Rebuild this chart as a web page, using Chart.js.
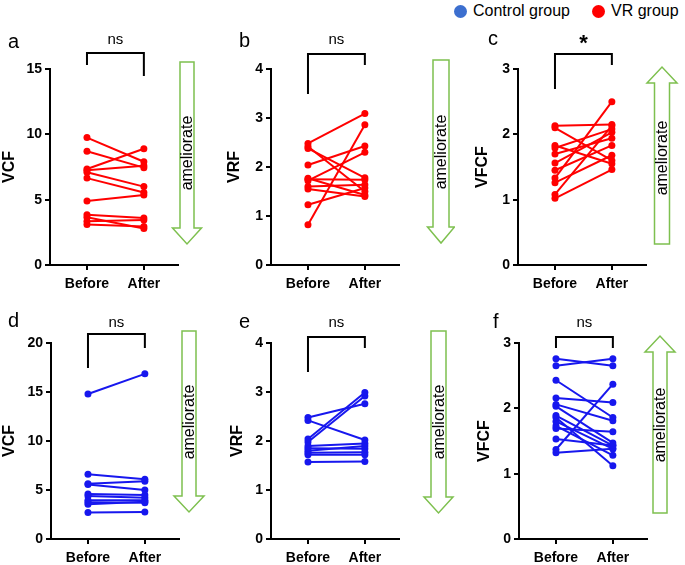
<!DOCTYPE html>
<html>
<head>
<meta charset="utf-8">
<script src="https://cdn.jsdelivr.net/npm/chart.js@4"></script>
<style>
  body { margin: 0; background: #fff; }
  #wrap { position: relative; width: 685px; height: 565px; font-family: "Liberation Sans", Arial, sans-serif; }
  canvas { position: absolute; }
  .dot { position: absolute; width: 13px; height: 13px; border-radius: 50%; }
  .lab { position: absolute; font-size: 16px; color: #000; top: 2px; }
</style>
</head>
<body>
<div id="wrap">
  <div class="dot" style="left:454px;top:5px;background:#3c6fcf"></div>
  <div class="lab" style="left:473px">Control group</div>
  <div class="dot" style="left:592px;top:5px;background:#ff0000"></div>
  <div class="lab" style="left:611px">VR group</div>
  <canvas id="pa" width="225" height="267" style="left:0;top:28px"></canvas>
  <canvas id="pb" width="230" height="267" style="left:225px;top:28px"></canvas>
  <canvas id="pc" width="230" height="267" style="left:455px;top:28px"></canvas>
  <canvas id="pd" width="225" height="260" style="left:0;top:305px"></canvas>
  <canvas id="pe" width="230" height="260" style="left:225px;top:305px"></canvas>
  <canvas id="pf" width="230" height="260" style="left:455px;top:305px"></canvas>
</div>
<script>
const timepoints = ['Before', 'After'];

// VR group
const vcfVrBefore = [9.75, 8.7, 7.35, 7.25, 7.1, 6.65, 4.9, 3.85, 3.65, 3.35, 3.1];
const vcfVrAfter  = [7.9, 7.45, 8.9, 7.6, 6.0, 5.55, 5.35, 3.6, 2.8, 3.45, 2.95];
const vrfVrBefore = [2.48, 2.42, 2.38, 2.04, 1.77, 1.72, 1.60, 1.55, 1.23, 0.82, 1.75];
const vrfVrAfter  = [3.09, 1.50, 1.78, 2.43, 1.43, 2.30, 1.64, 1.40, 1.57, 2.86, 1.74];
const vfcfVrBefore = [2.13, 2.10, 1.83, 1.79, 1.70, 1.56, 1.45, 1.33, 1.26, 1.08, 1.02];
const vfcfVrAfter  = [2.15, 1.60, 1.55, 2.08, 1.94, 2.03, 1.83, 2.50, 1.68, 2.13, 1.46];

// Control group
const vcfCtlBefore = [14.8, 6.6, 5.65, 5.55, 4.6, 4.4, 3.95, 3.75, 3.55, 2.7];
const vcfCtlAfter  = [16.85, 6.1, 5.9, 5.0, 4.5, 4.2, 3.95, 3.7, 3.8, 2.75];
const vrfCtlBefore = [2.48, 2.42, 2.04, 1.98, 1.90, 1.85, 1.80, 1.76, 1.72, 1.57];
const vrfCtlAfter  = [2.76, 2.02, 2.99, 2.92, 1.95, 1.84, 1.90, 1.77, 1.72, 1.58];
const vfcfCtlBefore = [2.76, 2.65, 2.43, 2.16, 2.06, 2.03, 1.89, 1.86, 1.80, 1.73, 1.69, 1.53, 1.37, 1.32];
const vfcfCtlAfter  = [2.65, 2.76, 1.86, 2.09, 1.81, 1.47, 1.43, 1.12, 1.38, 1.28, 1.64, 1.43, 2.37, 1.38];

const FONT = '"Liberation Sans", Arial, sans-serif';
const RED = '#ff0000';
const BLUE = '#1717ee';
const GREEN = '#7ec04f';

// brackets, arrows, letters
const decor = {
    id: 'decor',
    afterDraw(chart, args, o) {
        const ctx = chart.ctx;
        const top = chart.chartArea.top;
        const x0 = chart.scales.x.getPixelForValue(0);
        const x1 = chart.scales.x.getPixelForValue(1);
        ctx.save();
        ctx.fillStyle = '#000';
        ctx.textBaseline = 'middle';
        ctx.textAlign = 'left';
        ctx.font = '20px ' + FONT;
        ctx.fillText(o.letter, o.letterPos[0], o.letterPos[1]);

        ctx.strokeStyle = '#000';
        ctx.lineWidth = 2;
        ctx.beginPath();
        ctx.moveTo(x0, top + o.bracket[1]);
        ctx.lineTo(x0, top + o.bracket[0]);
        ctx.lineTo(x1, top + o.bracket[0]);
        ctx.lineTo(x1, top + o.bracket[2]);
        ctx.stroke();

        ctx.textAlign = 'center';
        ctx.font = o.sig === '*' ? 'bold 22px ' + FONT : '15px ' + FONT;
        ctx.fillText(o.sig, (x0 + x1) / 2, top + o.sigY);

        // hollow arrow
        const a = o.arrow;
        const dir = Math.sign(a.tip - a.tail);
        const base = a.tip - dir * a.head;
        ctx.strokeStyle = GREEN;
        ctx.lineWidth = 1.5;
        ctx.beginPath();
        ctx.moveTo(a.cx - a.shaft, a.tail);
        ctx.lineTo(a.cx + a.shaft, a.tail);
        ctx.lineTo(a.cx + a.shaft, base);
        ctx.lineTo(a.cx + a.wing, base);
        ctx.lineTo(a.cx, a.tip);
        ctx.lineTo(a.cx - a.wing, base);
        ctx.lineTo(a.cx - a.shaft, base);
        ctx.closePath();
        ctx.stroke();

        ctx.translate(a.cx + 1, a.textY);
        ctx.rotate(-Math.PI / 2);
        ctx.fillStyle = '#000';
        ctx.font = '16px ' + FONT;
        ctx.fillText('ameliorate', 0, 0);
        ctx.restore();
    }
};

function makePanel(id, p) {
    const datasets = p.before.map((b, i) => ({
        data: [{ x: 0, y: b }, { x: 1, y: p.after[i] }],
        borderColor: p.color,
        backgroundColor: p.color,
        borderWidth: 2,
        pointRadius: 3.5,
        pointBorderWidth: 0,
        clip: false
    }));
    const tickFont = { family: FONT, size: 14, weight: 'bold' };
    return new Chart(document.getElementById(id), {
        type: 'line',
        data: { datasets },
        options: {
            responsive: false,
            animation: false,
            events: [],
            layout: { padding: { left: p.padLeft, top: p.padTop, right: p.padRight, bottom: 0 } },
            plugins: {
                legend: { display: false },
                tooltip: { enabled: false },
                decor: p.decor
            },
            scales: {
                x: {
                    type: 'linear',
                    min: -0.65,
                    max: 1.6,
                    afterBuildTicks: (s) => { s.ticks = [{ value: 0 }, { value: 1 }]; },
                    afterFit: (s) => { s.height = p.xHeight; },
                    ticks: {
                        callback: (v) => timepoints[v],
                        color: '#000',
                        font: tickFont,
                        padding: 6,
                        maxRotation: 0
                    },
                    grid: { drawOnChartArea: false, color: '#000', lineWidth: 2, tickLength: 5 },
                    border: { color: '#000', width: 2 }
                },
                y: {
                    min: 0,
                    max: p.max,
                    afterFit: (s) => { s.width = p.yWidth; },
                    ticks: { stepSize: p.step, color: '#000', font: tickFont, padding: 3 },
                    grid: { drawOnChartArea: false, color: '#000', lineWidth: 2, tickLength: 5 },
                    border: { color: '#000', width: 2 },
                    title: {
                        display: true,
                        text: p.title,
                        color: '#000',
                        padding: 0,
                        font: { family: FONT, size: 16, weight: 'bold' }
                    }
                }
            }
        },
        plugins: [decor]
    });
}

const arrow = (cx, shaft, wing, tail, tip, textY) => ({ cx, shaft, wing, tail, tip, head: 16, textY });

makePanel('pa', {
    before: vcfVrBefore, after: vcfVrAfter, color: RED, title: 'VCF', max: 15, step: 5,
    padLeft: 0, yWidth: 50, padRight: 47, padTop: 41, xHeight: 30,
    decor: { letter: 'a', letterPos: [8, 14], sig: 'ns', sigY: -29, bracket: [-16, -4, 7],
             arrow: arrow(187, 7, 14.5, 34, 216, 125) }
});
makePanel('pb', {
    before: vrfVrBefore, after: vrfVrAfter, color: RED, title: 'VRF', max: 4, step: 1,
    padLeft: 0, yWidth: 46, padRight: 56, padTop: 41, xHeight: 30,
    decor: { letter: 'b', letterPos: [14, 13], sig: 'ns', sigY: -29, bracket: [-15, 25, -4],
             arrow: arrow(216, 8, 13.5, 32, 215, 124) }
});
makePanel('pc', {
    before: vfcfVrBefore, after: vfcfVrAfter, color: RED, title: 'VFCF', max: 3, step: 1,
    padLeft: 18, yWidth: 45, padRight: 39, padTop: 41, xHeight: 30,
    decor: { letter: 'c', letterPos: [33, 11], sig: '*', sigY: -25, bracket: [-15, 20, -4],
             arrow: arrow(207, 7.5, 15, 216, 39, 130) }
});
makePanel('pd', {
    before: vcfCtlBefore, after: vcfCtlAfter, color: BLUE, title: 'VCF', max: 20, step: 5,
    padLeft: 0, yWidth: 51, padRight: 46, padTop: 38, xHeight: 26,
    decor: { letter: 'd', letterPos: [8, 16], sig: 'ns', sigY: -20, bracket: [-9, 25, 5],
             arrow: arrow(189, 7, 15, 26, 207, 117) }
});
makePanel('pe', {
    before: vrfCtlBefore, after: vrfCtlAfter, color: BLUE, title: 'VRF', max: 4, step: 1,
    padLeft: 3, yWidth: 43, padRight: 56, padTop: 38, xHeight: 26,
    decor: { letter: 'e', letterPos: [14, 17], sig: 'ns', sigY: -20, bracket: [-6, 29, 5],
             arrow: arrow(213.5, 7.5, 14.5, 26, 208, 117) }
});
makePanel('pf', {
    before: vfcfCtlBefore, after: vfcfCtlAfter, color: BLUE, title: 'VFCF', max: 3, step: 1,
    padLeft: 20, yWidth: 44, padRight: 38, padTop: 38, xHeight: 26,
    decor: { letter: 'f', letterPos: [38, 17], sig: 'ns', sigY: -20, bracket: [-6, 5, 5],
             arrow: arrow(205, 7, 15, 208, 31, 120) }
});
</script>
</body>
</html>
